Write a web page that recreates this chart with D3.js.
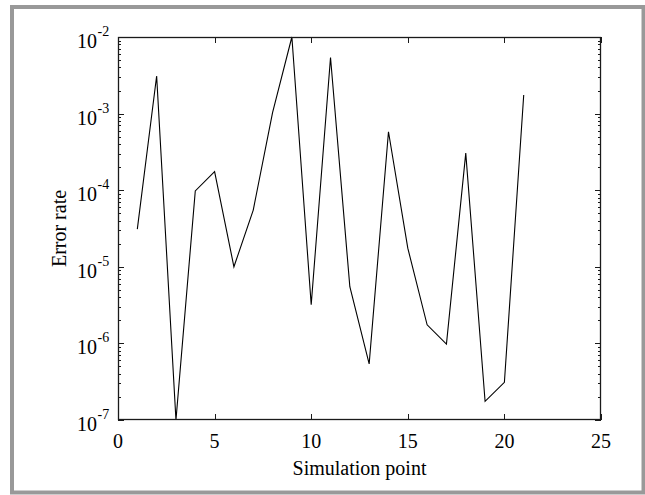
<!DOCTYPE html>
<html><head><meta charset="utf-8">
<script src="https://cdn.jsdelivr.net/npm/d3@7"></script>
<style>body{margin:0;background:#fff}svg{display:block}</style>
</head><body><svg id="c" width="645" height="495"></svg>
<script>
const points = [1,2,3,4,5,6,7,8,9,10,11,12,13,14,15,16,17,18,19,20,21];
const errorRate = [3.1e-5,3.1e-3,1e-7,9.8e-5,1.75e-4,1e-5,5.5e-5,1.03e-3,1e-2,3.2e-6,5.4e-3,5.5e-6,5.4e-7,5.8e-4,1.75e-5,1.75e-6,9.8e-7,3.05e-4,1.75e-7,3.1e-7,1.75e-3];
const xTicks = [0,5,10,15,20,25];
const yExponents = [-7,-6,-5,-4,-3,-2];
const xLabel = "Simulation point";
const yLabel = "Error rate";

const svg = d3.select("#c");
const L=118, R=601, T=37, B=420;
const font = "'Liberation Serif','Times New Roman',serif";
const axisColor = "#1a1a1a";

svg.append("rect").attr("x",12).attr("y",7).attr("width",631.5).attr("height",485.5)
  .attr("fill","#fff").attr("stroke","#999").attr("stroke-width",4);

const x = d3.scaleLinear().domain([0,25]).range([L,R]);
const y = d3.scaleLog().domain([1e-7,1e-2]).range([B,T]);

// minor ticks
const minor = [];
for (let e=-7; e<-2; e++) for (let m=2; m<=9; m++) minor.push(m*Math.pow(10,e));
const g = svg.append("g").attr("stroke",axisColor).attr("stroke-width",1).attr("shape-rendering","crispEdges");
minor.forEach(v=>{
  const yy = Math.round(y(v))+0.5;
  g.append("line").attr("x1",L).attr("x2",L+3).attr("y1",yy).attr("y2",yy);
  g.append("line").attr("x1",R-3).attr("x2",R).attr("y1",yy).attr("y2",yy);
});
yExponents.forEach(e=>{
  const yy = Math.round(y(Math.pow(10,e)))+0.5;
  g.append("line").attr("x1",L).attr("x2",L+6).attr("y1",yy).attr("y2",yy);
  g.append("line").attr("x1",R-6).attr("x2",R).attr("y1",yy).attr("y2",yy);
});
xTicks.forEach(t=>{
  const xx = Math.round(x(t))+0.5;
  g.append("line").attr("x1",xx).attr("x2",xx).attr("y1",B).attr("y2",B-6);
  g.append("line").attr("x1",xx).attr("x2",xx).attr("y1",T).attr("y2",T+6);
});

// data line
const line = d3.line().x((d,i)=>x(points[i])).y(d=>y(d));
svg.append("path").datum(errorRate).attr("d",line)
  .attr("fill","none").attr("stroke","#000").attr("stroke-width",1.1).attr("stroke-linejoin","miter");

// box
svg.append("rect").attr("x",L+0.5).attr("y",T+0.5).attr("width",R-L-1).attr("height",B-T-1)
  .attr("fill","none").attr("stroke",axisColor).attr("stroke-width",1.3);

// x tick labels
svg.append("g").selectAll("text").data(xTicks).join("text")
  .attr("x",d=>x(d)).attr("y",448).attr("text-anchor","middle")
  .attr("font-family",font).attr("font-size",20).attr("fill","#000").text(d=>d);

// y tick labels
const yl = svg.append("g");
yExponents.forEach(e=>{
  const yy = y(Math.pow(10,e));
  yl.append("text").attr("x",97).attr("y",yy+11).attr("text-anchor","end")
    .attr("font-family",font).attr("font-size",20).attr("fill","#000").text("10");
  yl.append("text").attr("x",97.5).attr("y",yy-1).attr("text-anchor","start")
    .attr("font-family",font).attr("font-size",14).attr("fill","#000").text(String(e));
});

// axis labels
svg.append("text").attr("x",(L+R)/2).attr("y",475).attr("text-anchor","middle")
  .attr("font-family",font).attr("font-size",20).attr("fill","#000").text(xLabel);
svg.append("text").attr("transform",`translate(66,${(T+B)/2}) rotate(-90)`).attr("text-anchor","middle")
  .attr("font-family",font).attr("font-size",20).attr("fill","#000").text(yLabel);
</script></body></html>
